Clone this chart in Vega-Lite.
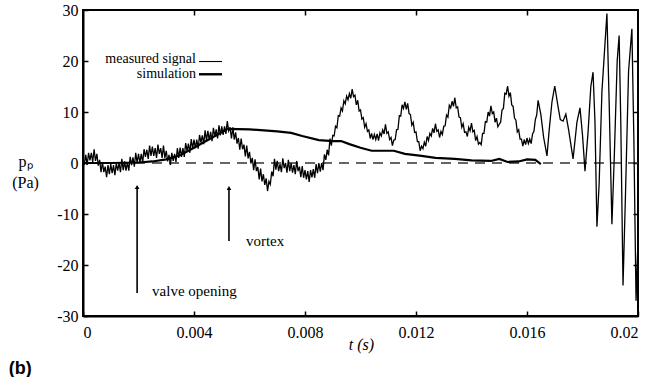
{
  "$schema": "https://vega.github.io/schema/vega-lite/v6.json",
  "width": 555,
  "height": 306,
  "autosize": {"type": "none"},
  "padding": {"left": 83, "top": 10, "right": 34, "bottom": 61},
  "background": "white",
  "config": {
    "font": "Liberation Serif, Times New Roman, serif",
    "view": {"stroke": "black", "strokeWidth": 2},
    "axis": {
      "domainColor": "black",
      "domainWidth": 2,
      "tickColor": "black",
      "tickWidth": 1.5,
      "tickSize": -5,
      "labelFont": "Liberation Serif, Times New Roman, serif",
      "labelFontSize": 16,
      "labelColor": "black",
      "titleFont": "Liberation Serif, Times New Roman, serif",
      "titleFontSize": 16,
      "titleFontWeight": "normal",
      "titleColor": "black",
      "grid": false
    }
  },
  "title": {
    "text": "(b)",
    "orient": "bottom",
    "anchor": "start",
    "frame": "bounds",
    "font": "Liberation Sans, Arial, sans-serif",
    "fontSize": 18,
    "fontWeight": "bold",
    "color": "black",
    "offset": 8,
    "dx": -3
  },
  "datasets": {
    "measured": [
      {"t": 0, "p": 0.0}, {"t": 0.00005, "p": -0.2}, {"t": 0.0001, "p": 1.6}, {"t": 0.00015, "p": -0.4},
      {"t": 0.0002, "p": 2.0}, {"t": 0.00025, "p": 0.5}, {"t": 0.0003, "p": 2.0}, {"t": 0.00035, "p": 0.2},
      {"t": 0.0004, "p": 2.7}, {"t": 0.00045, "p": 0.4}, {"t": 0.0005, "p": 1.8}, {"t": 0.00055, "p": -0.5},
      {"t": 0.0006, "p": 0.6}, {"t": 0.00065, "p": -1.8}, {"t": 0.0007, "p": 0.2}, {"t": 0.00075, "p": -1.8},
      {"t": 0.0008, "p": -0.7}, {"t": 0.00085, "p": -2.8}, {"t": 0.0009, "p": -0.4}, {"t": 0.00095, "p": -2.2},
      {"t": 0.001, "p": -0.2}, {"t": 0.00105, "p": -2.0}, {"t": 0.0011, "p": -0.4}, {"t": 0.00115, "p": -2.4},
      {"t": 0.0012, "p": 0.0}, {"t": 0.00125, "p": -1.5}, {"t": 0.0013, "p": 0.0}, {"t": 0.00135, "p": -1.8},
      {"t": 0.0014, "p": 0.8}, {"t": 0.00145, "p": -1.4}, {"t": 0.0015, "p": 0.3}, {"t": 0.00155, "p": -1.5},
      {"t": 0.0016, "p": 0.2}, {"t": 0.00165, "p": -1.5}, {"t": 0.0017, "p": 1.2}, {"t": 0.00175, "p": -0.4},
      {"t": 0.0018, "p": 1.1}, {"t": 0.00185, "p": -0.7}, {"t": 0.0019, "p": 2.0}, {"t": 0.00195, "p": 0.0},
      {"t": 0.002, "p": 1.8}, {"t": 0.00205, "p": 0.1}, {"t": 0.0021, "p": 1.8}, {"t": 0.00215, "p": 0.1},
      {"t": 0.0022, "p": 2.7}, {"t": 0.00225, "p": 1.2}, {"t": 0.0023, "p": 2.6}, {"t": 0.00235, "p": 0.8},
      {"t": 0.0024, "p": 3.4}, {"t": 0.00245, "p": 1.4}, {"t": 0.0025, "p": 3.2}, {"t": 0.00255, "p": 1.4},
      {"t": 0.0026, "p": 2.9}, {"t": 0.00265, "p": 1.0}, {"t": 0.0027, "p": 3.6}, {"t": 0.00275, "p": 1.8},
      {"t": 0.0028, "p": 2.9}, {"t": 0.00285, "p": 1.0}, {"t": 0.0029, "p": 3.4}, {"t": 0.00295, "p": 1.0},
      {"t": 0.003, "p": 2.4}, {"t": 0.00305, "p": 0.3}, {"t": 0.0031, "p": 1.6}, {"t": 0.00315, "p": -0.4},
      {"t": 0.0032, "p": 2.0}, {"t": 0.00325, "p": 0.4}, {"t": 0.0033, "p": 1.8}, {"t": 0.00335, "p": 0.2},
      {"t": 0.0034, "p": 2.9}, {"t": 0.00345, "p": 1.0}, {"t": 0.0035, "p": 3.0}, {"t": 0.00355, "p": 1.2},
      {"t": 0.0036, "p": 2.9}, {"t": 0.00365, "p": 1.2}, {"t": 0.0037, "p": 3.9}, {"t": 0.00375, "p": 2.4},
      {"t": 0.0038, "p": 3.8}, {"t": 0.00385, "p": 2.0}, {"t": 0.0039, "p": 4.7}, {"t": 0.00395, "p": 2.8},
      {"t": 0.004, "p": 4.6}, {"t": 0.00405, "p": 2.9}, {"t": 0.0041, "p": 4.6}, {"t": 0.00415, "p": 2.8},
      {"t": 0.0042, "p": 5.5}, {"t": 0.00425, "p": 4.0}, {"t": 0.0043, "p": 5.4}, {"t": 0.00435, "p": 3.7},
      {"t": 0.0044, "p": 6.4}, {"t": 0.00445, "p": 4.4}, {"t": 0.0045, "p": 6.3}, {"t": 0.00455, "p": 4.5},
      {"t": 0.0046, "p": 6.1}, {"t": 0.00465, "p": 4.3}, {"t": 0.0047, "p": 6.9}, {"t": 0.00475, "p": 5.2},
      {"t": 0.0048, "p": 6.6}, {"t": 0.00485, "p": 4.8}, {"t": 0.0049, "p": 7.4}, {"t": 0.00495, "p": 5.4},
      {"t": 0.005, "p": 7.2}, {"t": 0.00505, "p": 5.5}, {"t": 0.0051, "p": 7.2}, {"t": 0.00515, "p": 5.7},
      {"t": 0.0052, "p": 8.2}, {"t": 0.00525, "p": 6.3}, {"t": 0.0053, "p": 7.0}, {"t": 0.00535, "p": 4.8},
      {"t": 0.0054, "p": 7.0}, {"t": 0.00545, "p": 4.6}, {"t": 0.0055, "p": 6.0}, {"t": 0.00555, "p": 3.8},
      {"t": 0.0056, "p": 4.9}, {"t": 0.00565, "p": 2.6}, {"t": 0.0057, "p": 4.8}, {"t": 0.00575, "p": 2.7},
      {"t": 0.0058, "p": 3.6}, {"t": 0.00585, "p": 1.3}, {"t": 0.0059, "p": 3.4}, {"t": 0.00595, "p": 0.9},
      {"t": 0.006, "p": 2.2}, {"t": 0.00605, "p": -0.1}, {"t": 0.0061, "p": 1.0}, {"t": 0.00615, "p": -1.4},
      {"t": 0.0062, "p": 0.7}, {"t": 0.00625, "p": -1.6}, {"t": 0.0063, "p": -0.8}, {"t": 0.00635, "p": -3.2},
      {"t": 0.0064, "p": -1.1}, {"t": 0.00645, "p": -3.6}, {"t": 0.0065, "p": -2.2}, {"t": 0.00655, "p": -4.3},
      {"t": 0.0066, "p": -3.0}, {"t": 0.00665, "p": -5.5}, {"t": 0.0067, "p": -3.6}, {"t": 0.00675, "p": -4.2},
      {"t": 0.0068, "p": -1.7}, {"t": 0.00685, "p": -2.6}, {"t": 0.0069, "p": 0.8}, {"t": 0.00695, "p": -1.3},
      {"t": 0.007, "p": 0.4}, {"t": 0.00705, "p": -1.6}, {"t": 0.0071, "p": -0.2}, {"t": 0.00715, "p": -1.8},
      {"t": 0.0072, "p": 0.9}, {"t": 0.00725, "p": -1.0}, {"t": 0.0073, "p": 0.0}, {"t": 0.00735, "p": -1.9},
      {"t": 0.0074, "p": 0.6}, {"t": 0.00745, "p": -1.6}, {"t": 0.0075, "p": 0.0}, {"t": 0.00755, "p": -1.9},
      {"t": 0.0076, "p": -0.4}, {"t": 0.00765, "p": -2.2}, {"t": 0.0077, "p": 0.4}, {"t": 0.00775, "p": -1.6},
      {"t": 0.0078, "p": -0.7}, {"t": 0.00785, "p": -2.8}, {"t": 0.0079, "p": -0.6}, {"t": 0.00795, "p": -2.9},
      {"t": 0.008, "p": -1.4}, {"t": 0.00805, "p": -3.2}, {"t": 0.0081, "p": -1.6}, {"t": 0.00815, "p": -3.7},
      {"t": 0.0082, "p": -1.4}, {"t": 0.00825, "p": -2.8}, {"t": 0.0083, "p": -1.2}, {"t": 0.00835, "p": -2.9},
      {"t": 0.0084, "p": -0.2}, {"t": 0.00845, "p": -2.0}, {"t": 0.0085, "p": 0.0}, {"t": 0.00855, "p": -1.7},
      {"t": 0.0086, "p": 0.0}, {"t": 0.00865, "p": -1.4}, {"t": 0.0087, "p": 1.7}, {"t": 0.00875, "p": 0.6},
      {"t": 0.0088, "p": 2.6}, {"t": 0.00885, "p": 1.5}, {"t": 0.0089, "p": 4.8}, {"t": 0.00895, "p": 3.4},
      {"t": 0.009, "p": 5.4}, {"t": 0.00905, "p": 5.3}, {"t": 0.0091, "p": 7.2}, {"t": 0.00915, "p": 6.9},
      {"t": 0.0092, "p": 9.3}, {"t": 0.00925, "p": 9.2}, {"t": 0.0093, "p": 10.8}, {"t": 0.00935, "p": 10.2},
      {"t": 0.0094, "p": 12.2}, {"t": 0.00945, "p": 11.6}, {"t": 0.0095, "p": 13.1}, {"t": 0.00955, "p": 12.4},
      {"t": 0.0096, "p": 13.6}, {"t": 0.00965, "p": 12.7}, {"t": 0.0097, "p": 14.5}, {"t": 0.00975, "p": 13.0},
      {"t": 0.0098, "p": 13.3}, {"t": 0.00985, "p": 11.4}, {"t": 0.0099, "p": 12.3}, {"t": 0.00995, "p": 10.2},
      {"t": 0.01, "p": 10.4}, {"t": 0.01005, "p": 8.6}, {"t": 0.0101, "p": 8.9}, {"t": 0.01015, "p": 7.0},
      {"t": 0.0102, "p": 7.7}, {"t": 0.01025, "p": 6.2}, {"t": 0.0103, "p": 6.5}, {"t": 0.01035, "p": 4.8},
      {"t": 0.0104, "p": 5.8}, {"t": 0.01045, "p": 4.6}, {"t": 0.0105, "p": 5.6}, {"t": 0.01055, "p": 4.6},
      {"t": 0.0106, "p": 5.7}, {"t": 0.01065, "p": 4.4}, {"t": 0.0107, "p": 5.9}, {"t": 0.01075, "p": 5.3},
      {"t": 0.0108, "p": 6.5}, {"t": 0.01085, "p": 5.7}, {"t": 0.0109, "p": 7.6}, {"t": 0.01095, "p": 5.8},
      {"t": 0.011, "p": 6.1}, {"t": 0.01105, "p": 4.6}, {"t": 0.0111, "p": 5.0}, {"t": 0.01115, "p": 3.4},
      {"t": 0.0112, "p": 4.5}, {"t": 0.01125, "p": 4.6}, {"t": 0.0113, "p": 6.5}, {"t": 0.01135, "p": 6.6},
      {"t": 0.0114, "p": 9.3}, {"t": 0.01145, "p": 9.2}, {"t": 0.0115, "p": 11.4}, {"t": 0.01155, "p": 10.7},
      {"t": 0.0116, "p": 12.0}, {"t": 0.01165, "p": 10.5}, {"t": 0.0117, "p": 11.7}, {"t": 0.01175, "p": 9.7},
      {"t": 0.0118, "p": 9.5}, {"t": 0.01185, "p": 7.4}, {"t": 0.0119, "p": 8.0}, {"t": 0.01195, "p": 6.0},
      {"t": 0.012, "p": 6.1}, {"t": 0.01205, "p": 4.2}, {"t": 0.0121, "p": 4.2}, {"t": 0.01215, "p": 2.4},
      {"t": 0.0122, "p": 3.3}, {"t": 0.01225, "p": 2.8}, {"t": 0.0123, "p": 4.1}, {"t": 0.01235, "p": 3.3},
      {"t": 0.0124, "p": 5.2}, {"t": 0.01245, "p": 4.4}, {"t": 0.0125, "p": 5.8}, {"t": 0.01255, "p": 5.3},
      {"t": 0.0126, "p": 6.8}, {"t": 0.01265, "p": 5.9}, {"t": 0.0127, "p": 7.7}, {"t": 0.01275, "p": 6.2},
      {"t": 0.0128, "p": 6.5}, {"t": 0.01285, "p": 5.0}, {"t": 0.0129, "p": 6.2}, {"t": 0.01295, "p": 5.6},
      {"t": 0.013, "p": 7.2}, {"t": 0.01305, "p": 7.3}, {"t": 0.0131, "p": 9.4}, {"t": 0.01315, "p": 9.0},
      {"t": 0.0132, "p": 11.3}, {"t": 0.01325, "p": 10.8}, {"t": 0.0133, "p": 12.1}, {"t": 0.01335, "p": 11.1},
      {"t": 0.0134, "p": 12.8}, {"t": 0.01345, "p": 10.8}, {"t": 0.0135, "p": 11.0}, {"t": 0.01355, "p": 9.0},
      {"t": 0.0136, "p": 8.9}, {"t": 0.01365, "p": 7.0}, {"t": 0.0137, "p": 7.7}, {"t": 0.01375, "p": 6.0},
      {"t": 0.0138, "p": 6.1}, {"t": 0.01385, "p": 5.2}, {"t": 0.0139, "p": 7.0}, {"t": 0.01395, "p": 6.3},
      {"t": 0.014, "p": 7.8}, {"t": 0.01405, "p": 6.1}, {"t": 0.0141, "p": 6.4}, {"t": 0.01415, "p": 4.4},
      {"t": 0.0142, "p": 5.2}, {"t": 0.01425, "p": 3.7}, {"t": 0.0143, "p": 4.0}, {"t": 0.01435, "p": 3.6},
      {"t": 0.0144, "p": 5.8}, {"t": 0.01445, "p": 5.8}, {"t": 0.0145, "p": 8.1}, {"t": 0.01455, "p": 8.0},
      {"t": 0.0146, "p": 10.0}, {"t": 0.01465, "p": 9.2}, {"t": 0.0147, "p": 11.2}, {"t": 0.01475, "p": 9.7},
      {"t": 0.0148, "p": 10.0}, {"t": 0.01485, "p": 8.0}, {"t": 0.0149, "p": 8.8}, {"t": 0.01495, "p": 7.1},
      {"t": 0.015, "p": 7.6}, {"t": 0.01505, "p": 8.0}, {"t": 0.0151, "p": 10.4}, {"t": 0.01515, "p": 10.7},
      {"t": 0.0152, "p": 13.7}, {"t": 0.01525, "p": 13.5}, {"t": 0.0153, "p": 15.1}, {"t": 0.01535, "p": 13.1},
      {"t": 0.0154, "p": 13.8}, {"t": 0.01545, "p": 11.4}, {"t": 0.0155, "p": 11.1}, {"t": 0.01555, "p": 8.8},
      {"t": 0.0156, "p": 8.4}, {"t": 0.01565, "p": 6.1}, {"t": 0.0157, "p": 6.5}, {"t": 0.01575, "p": 4.7},
      {"t": 0.0158, "p": 4.7}, {"t": 0.01585, "p": 3.3}, {"t": 0.0159, "p": 4.6}, {"t": 0.01595, "p": 3.6},
      {"t": 0.016, "p": 4.9}, {"t": 0.01605, "p": 3.8}, {"t": 0.0161, "p": 4.7}, {"t": 0.01615, "p": 3.8},
      {"t": 0.0162, "p": 5.7}, {"t": 0.01625, "p": 6.2}, {"t": 0.0163, "p": 8.5}, {"t": 0.01635, "p": 9.4},
      {"t": 0.0164, "p": 12.3}, {"t": 0.0165, "p": 9.5}, {"t": 0.0166, "p": 5.0}, {"t": 0.01672, "p": 1.4},
      {"t": 0.0168, "p": 6.5}, {"t": 0.0169, "p": 12.0}, {"t": 0.017, "p": 15.1}, {"t": 0.01712, "p": 11.0},
      {"t": 0.0172, "p": 8.5}, {"t": 0.0173, "p": 8.2}, {"t": 0.0174, "p": 9.6}, {"t": 0.0175, "p": 6.5},
      {"t": 0.01766, "p": 0.8}, {"t": 0.0178, "p": 8.0}, {"t": 0.01791, "p": 10.8}, {"t": 0.018, "p": 5.5},
      {"t": 0.01809, "p": -1.6}, {"t": 0.0182, "p": 6.0}, {"t": 0.0183, "p": 15.0}, {"t": 0.01838, "p": 17.8},
      {"t": 0.01845, "p": 8.0}, {"t": 0.01852, "p": -12.5}, {"t": 0.0186, "p": -4.0}, {"t": 0.0187, "p": 14.0},
      {"t": 0.01888, "p": 29.3}, {"t": 0.01896, "p": 12.0}, {"t": 0.01906, "p": -12.0}, {"t": 0.01915, "p": 2.0},
      {"t": 0.01925, "p": 20.0}, {"t": 0.01932, "p": 25.0}, {"t": 0.01938, "p": 8.0}, {"t": 0.01946, "p": -24.0},
      {"t": 0.01955, "p": -6.0}, {"t": 0.01966, "p": 18.0}, {"t": 0.01978, "p": 26.3}, {"t": 0.01985, "p": 5.0},
      {"t": 0.01993, "p": -27.0}, {"t": 0.02, "p": -15.0}
    ],
    "simulation": [
      {"t": 0.0000, "p": 0.0}, {"t": 0.0010, "p": 0.0}, {"t": 0.0020, "p": 0.1}, {"t": 0.0025, "p": 0.3},
      {"t": 0.0030, "p": 0.7}, {"t": 0.0035, "p": 1.5}, {"t": 0.0040, "p": 3.0}, {"t": 0.0045, "p": 4.5},
      {"t": 0.0050, "p": 6.0}, {"t": 0.0052, "p": 6.7}, {"t": 0.0060, "p": 6.6}, {"t": 0.0070, "p": 6.2},
      {"t": 0.0075, "p": 5.9}, {"t": 0.0079, "p": 5.3}, {"t": 0.0085, "p": 4.5}, {"t": 0.0090, "p": 4.3},
      {"t": 0.0093, "p": 4.3}, {"t": 0.0096, "p": 3.7}, {"t": 0.0100, "p": 3.0}, {"t": 0.0104, "p": 2.4},
      {"t": 0.0112, "p": 2.4}, {"t": 0.0116, "p": 1.8}, {"t": 0.0122, "p": 1.4}, {"t": 0.0127, "p": 1.0},
      {"t": 0.0134, "p": 0.8}, {"t": 0.0140, "p": 0.5}, {"t": 0.0147, "p": 0.4}, {"t": 0.0150, "p": 0.8},
      {"t": 0.0153, "p": 0.2}, {"t": 0.0157, "p": 0.3}, {"t": 0.0160, "p": 0.7}, {"t": 0.0163, "p": 0.6},
      {"t": 0.0165, "p": -0.2}
    ],
    "arrows": [
      {"t": 0.00195, "from": -25.5, "to": -4.7},
      {"t": 0.00526, "from": -15.3, "to": -4.9}
    ],
    "notes": [
      {"t": 0.00249, "p": -25.1, "label": "valve opening"},
      {"t": 0.00587, "p": -15.3, "label": "vortex"}
    ],
    "key": [
      {"series": "measured signal", "t": 0.00407, "p": 20.4, "t0": 0.00418, "t1": 0.00501, "lp": 19.9, "w": 1.1},
      {"series": "simulation", "t": 0.00407, "p": 17.4, "t0": 0.00418, "t1": 0.00501, "lp": 17.4, "w": 2.4}
    ],
    "zero": [{"p": 0}]
  },
  "layer": [
    {
      "data": {"name": "zero"},
      "mark": {"type": "rule", "color": "#333333", "strokeWidth": 1.3, "strokeDash": [10, 7]},
      "encoding": {
        "y": {"field": "p", "type": "quantitative", "scale": {"domain": [-30, 30], "nice": false}, "axis": null}
      }
    },
    {
      "data": {"name": "simulation"},
      "mark": {"type": "line", "color": "black", "strokeWidth": 2.2},
      "encoding": {
        "x": {
          "field": "t", "type": "quantitative",
          "scale": {"domain": [0, 0.02], "nice": false},
          "axis": {"orient": "top", "values": [0.004, 0.008, 0.012, 0.016], "labels": false, "domain": false, "title": null}
        },
        "y": {
          "field": "p", "type": "quantitative",
          "scale": {"domain": [-30, 30], "nice": false},
          "axis": {"orient": "right", "values": [-20, -10, 0, 10, 20], "labels": false, "domain": false, "title": null}
        }
      }
    },
    {
      "data": {"name": "measured"},
      "mark": {"type": "line", "color": "black", "strokeWidth": 1.3},
      "encoding": {
        "x": {
          "field": "t", "type": "quantitative",
          "scale": {"domain": [0, 0.02], "nice": false},
          "axis": {
            "orient": "bottom",
            "values": [0, 0.004, 0.008, 0.012, 0.016, 0.02],
            "labelExpr": "'' + datum.value",
            "labelPadding": 13,
            "title": "t (s)",
            "titleY": 28,
            "titleX": 278,
            "titleBaseline": "middle",
            "titleFontStyle": "italic"
          }
        },
        "y": {
          "field": "p", "type": "quantitative",
          "scale": {"domain": [-30, 30], "nice": false},
          "axis": {
            "orient": "left",
            "values": [-30, -20, -10, 0, 10, 20, 30],
            "labelExpr": "'' + datum.value",
            "labelPadding": 10,
            "title": ["pₚ", "(Pa)"],
            "titleAngle": 0,
            "titleAlign": "center",
            "titleBaseline": "alphabetic",
            "titleLineHeight": 21,
            "titleX": -58,
            "titleY": 156
          }
        }
      }
    },
    {
      "data": {"name": "arrows"},
      "mark": {"type": "rule", "color": "black", "strokeWidth": 1.6},
      "encoding": {
        "x": {"field": "t", "type": "quantitative", "scale": {"domain": [0, 0.02], "nice": false}, "axis": null},
        "y": {"field": "from", "type": "quantitative", "scale": {"domain": [-30, 30], "nice": false}, "axis": null},
        "y2": {"field": "to"}
      }
    },
    {
      "data": {"name": "arrows"},
      "mark": {"type": "point", "shape": "triangle-up", "filled": true, "color": "black", "size": 22, "opacity": 1},
      "encoding": {
        "x": {"field": "t", "type": "quantitative", "scale": {"domain": [0, 0.02], "nice": false}, "axis": null},
        "y": {"field": "to", "type": "quantitative", "scale": {"domain": [-30, 30], "nice": false}, "axis": null}
      }
    },
    {
      "data": {"name": "notes"},
      "mark": {"type": "text", "align": "left", "baseline": "middle", "font": "Liberation Serif, Times New Roman, serif", "fontSize": 15, "color": "black"},
      "encoding": {
        "x": {"field": "t", "type": "quantitative", "scale": {"domain": [0, 0.02], "nice": false}, "axis": null},
        "y": {"field": "p", "type": "quantitative", "scale": {"domain": [-30, 30], "nice": false}, "axis": null},
        "text": {"field": "label"}
      }
    },
    {
      "data": {"name": "key"},
      "mark": {"type": "text", "align": "right", "baseline": "middle", "font": "Liberation Serif, Times New Roman, serif", "fontSize": 14, "color": "black"},
      "encoding": {
        "x": {"field": "t", "type": "quantitative", "scale": {"domain": [0, 0.02], "nice": false}, "axis": null},
        "y": {"field": "p", "type": "quantitative", "scale": {"domain": [-30, 30], "nice": false}, "axis": null},
        "text": {"field": "series"}
      }
    },
    {
      "data": {"name": "key"},
      "mark": {"type": "rule", "color": "black"},
      "encoding": {
        "x": {"field": "t0", "type": "quantitative", "scale": {"domain": [0, 0.02], "nice": false}, "axis": null},
        "x2": {"field": "t1"},
        "y": {"field": "lp", "type": "quantitative", "scale": {"domain": [-30, 30], "nice": false}, "axis": null},
        "strokeWidth": {"field": "w", "type": "quantitative", "scale": null, "legend": null}
      }
    }
  ],
  "resolve": {"axis": {"x": "independent", "y": "independent"}}
}
